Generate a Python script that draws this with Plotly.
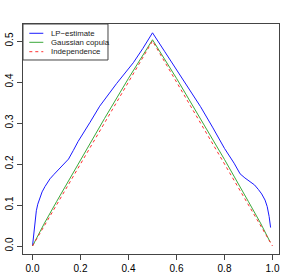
import plotly.graph_objects as go

# LP-estimate
lp_x = [0, 0.003, 0.007, 0.011, 0.016, 0.022, 0.03, 0.04, 0.052, 0.062, 0.073, 0.09, 0.108,
        0.13, 0.15, 0.17, 0.19, 0.24, 0.28, 0.35, 0.42, 0.46, 0.5, 0.55, 0.6, 0.65, 0.7,
        0.75, 0.8, 0.84, 0.865, 0.885, 0.906, 0.925, 0.941, 0.955, 0.969, 0.978, 0.986, 0.992]
lp_y = [0, 0.02, 0.045, 0.066, 0.086, 0.102, 0.118, 0.132, 0.145, 0.155, 0.164, 0.175, 0.186,
        0.199, 0.212, 0.233, 0.255, 0.302, 0.341, 0.396, 0.447, 0.482, 0.52, 0.475, 0.43, 0.385, 0.34,
        0.29, 0.238, 0.202, 0.176, 0.166, 0.157, 0.149, 0.138, 0.127, 0.112, 0.096, 0.072, 0.045]

# Gaussian copula
gc_x = [0, 0.05, 0.1, 0.2, 0.3, 0.4, 0.5, 0.6, 0.7, 0.8, 0.9, 0.95, 0.99]
gc_y = [0, 0.056, 0.108, 0.211, 0.311, 0.409, 0.503, 0.409, 0.311, 0.211, 0.108, 0.056, 0.01]

# Independence
ind_x = [0, 0.5, 1.0]
ind_y = [0, 0.5, 0]

tick_vals_x = [0.0, 0.2, 0.4, 0.6, 0.8, 1.0]
tick_text_x = ["0.0", "0.2", "0.4", "0.6", "0.8", "1.0"]
tick_vals_y = [0.0, 0.1, 0.2, 0.3, 0.4, 0.5]
tick_text_y = ["0.0", "0.1", "0.2", "0.3", "0.4", "0.5"]

series = [
    ("LP\u2212estimate", lp_x, lp_y, "#1a1aff", "solid"),
    ("Gaussian copula", gc_x, gc_y, "#3aa83a", "solid"),
    ("Independence", ind_x, ind_y, "#ff3030", "3px,3px"),
]

fig = go.Figure()
for name, xs, ys, col, dash in series:
    fig.add_trace(go.Scatter(x=xs, y=ys, mode="lines", name=name,
                             line=dict(color=col, width=1.0, dash=dash)))

axis_common = dict(showgrid=False, zeroline=False, showline=True, mirror=True,
                   linecolor="#444", linewidth=1, ticks="outside", ticklen=5,
                   tickcolor="#444", automargin=False,
                   tickfont=dict(family="Liberation Sans, Arial", size=10, color="black"))

# Compact R-style legend (box, line samples and labels) in plot-area coordinates
leg_w, leg_top, leg_bottom = 0.332, 1.0, 0.8435
row_y = [0.9596, 0.9204, 0.8796]
shapes = [dict(type="rect", xref="paper", yref="paper", x0=0, x1=leg_w,
               y0=leg_bottom, y1=leg_top, line=dict(color="#444", width=1),
               fillcolor="white", layer="above")]
annotations = []
for (name, xs, ys, col, dash), ry in zip(series, row_y):
    shapes.append(dict(type="line", xref="paper", yref="paper", x0=0.0246, x1=0.0793,
                       y0=ry, y1=ry, line=dict(color=col, width=1.0, dash=dash), layer="above"))
    annotations.append(dict(xref="paper", yref="paper", x=0.1055, y=ry, text=name,
                            showarrow=False, xanchor="left", yanchor="middle",
                            font=dict(size=7.8, color="#222"), xshift=-1))

fig.update_layout(
    width=285, height=279,
    margin=dict(l=23, r=6, t=24, b=25, pad=0),
    paper_bgcolor="white", plot_bgcolor="white",
    font=dict(family="Liberation Sans, Arial", color="black"),
    xaxis=dict(range=[-0.0396, 1.0271], tickvals=tick_vals_x, ticktext=tick_text_x, **axis_common),
    yaxis=dict(range=[-0.0195, 0.5415], tickvals=tick_vals_y, ticktext=tick_text_y,
               tickangle=-90, **axis_common),
    showlegend=False,
    shapes=shapes,
    annotations=annotations,
)

fig.write_html("out.html", config={"displayModeBar": False},
               post_script="document.body.style.margin='0';document.body.style.overflow='hidden';")
